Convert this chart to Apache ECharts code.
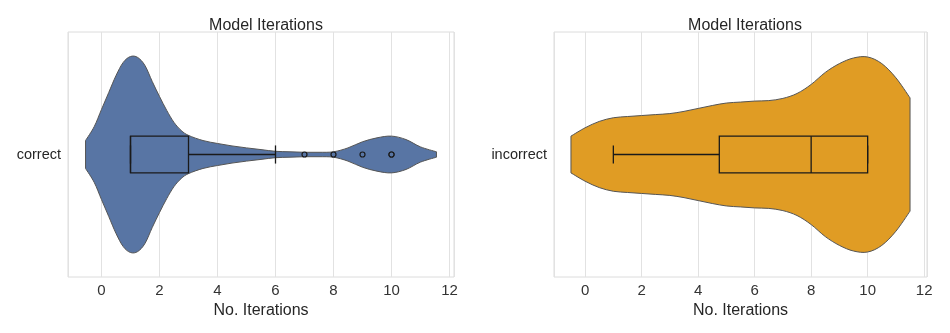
<!DOCTYPE html>
<html>
<head>
<meta charset="utf-8">
<script src="https://cdn.jsdelivr.net/npm/echarts@6/dist/echarts.min.js"></script>
<style>
  html, body { margin: 0; background: #fff; }
  #chart { width: 950px; height: 333px; }
</style>
</head>
<body>
<div id="chart"></div>
<script>
  var categories = ['correct', 'incorrect']

  // violin half-widths (in category units) along No. Iterations
  var correctX = [-0.55, -0.25, 0, 0.25, 0.5, 0.75, 1, 1.25, 1.5, 1.75, 2, 2.25, 2.5, 2.75, 3, 3.5, 4, 4.5, 5, 5.5, 6, 6.5, 7, 7.5, 8, 8.5, 9, 9.5, 10, 10.5, 11, 11.55]
  var correctW = [0.057, 0.114, 0.184, 0.253, 0.322, 0.376, 0.4, 0.396, 0.363, 0.298, 0.237, 0.18, 0.131, 0.098, 0.078, 0.057, 0.045, 0.035, 0.027, 0.02, 0.013, 0.011, 0.009, 0.009, 0.011, 0.027, 0.052, 0.068, 0.075, 0.061, 0.031, 0.011]
  var incorrectX = [-0.5, 0, 0.5, 1, 1.5, 2, 2.5, 3, 3.5, 4, 4.5, 5, 5.5, 6, 6.5, 7, 7.5, 8, 8.5, 9, 9.5, 10, 10.5, 11, 11.5]
  var incorrectW = [0.075, 0.109, 0.135, 0.15, 0.155, 0.159, 0.163, 0.167, 0.176, 0.188, 0.2, 0.21, 0.214, 0.218, 0.22, 0.229, 0.249, 0.286, 0.335, 0.371, 0.394, 0.398, 0.371, 0.313, 0.231]

  // box stats: [min, q1, median, q3, max]
  var correctBox = [1, 1, 1, 3, 6]
  var incorrectBox = [1, 4.75, 8, 10, 10]
  var correctOutliers = [7, 8, 9, 10, 10]

  var xRanges = [[-1.155, 12.155], [-1.1, 12.1]]
  var colors = ['#5875a4', '#e09c24']
  var font = 'Liberation Sans, Arial, sans-serif'

  // catmull-rom through screen points -> cubic bezier path segments
  function curve (pts) {
    var d = ''
    for (var i = 0; i < pts.length - 1; i++) {
      var p0 = pts[Math.max(i - 1, 0)]
      var p1 = pts[i]
      var p2 = pts[i + 1]
      var p3 = pts[Math.min(i + 2, pts.length - 1)]
      var c1 = [p1[0] + (p2[0] - p0[0]) / 6, p1[1] + (p2[1] - p0[1]) / 6]
      var c2 = [p2[0] - (p3[0] - p1[0]) / 6, p2[1] - (p3[1] - p1[1]) / 6]
      d += ' C' + c1[0] + ' ' + c1[1] + ' ' + c2[0] + ' ' + c2[1] + ' ' + p2[0] + ' ' + p2[1]
    }
    return d
  }

  function violinSeries (idx, xs, ws) {
    return {
      type: 'custom',
      xAxisIndex: idx,
      yAxisIndex: idx,
      z: 2,
      data: xs.map(function (x, i) { return [x, ws[i]] }),
      renderItem: function (params, api) {
        if (params.dataIndex !== 0) return null
        var top = []
        var bottom = []
        for (var i = 0; i < xs.length; i++) {
          top.push(api.coord([xs[i], ws[i]]))
          bottom.unshift(api.coord([xs[i], -ws[i]]))
        }
        var d = 'M' + top[0][0] + ' ' + top[0][1] + curve(top) +
          ' L' + bottom[0][0] + ' ' + bottom[0][1] + curve(bottom) + ' Z'
        return {
          type: 'path',
          shape: { pathData: d },
          style: { fill: colors[idx], stroke: '#555', lineWidth: 1 }
        }
      },
      silent: true
    }
  }

  function boxSeries (idx, b) {
    var hb = 0.075
    var hc = 0.037
    return {
      type: 'custom',
      xAxisIndex: idx,
      yAxisIndex: idx,
      z: 3,
      data: [b],
      renderItem: function (params, api) {
        var st = { stroke: '#1a1a1a', lineWidth: 1.3, fill: null }
        var p1 = api.coord([b[1], hb])
        var p3 = api.coord([b[3], -hb])
        var els = [
          { type: 'rect', shape: { x: p1[0], y: p1[1], width: p3[0] - p1[0], height: p3[1] - p1[1] }, style: st },
          line(api.coord([b[2], hb]), api.coord([b[2], -hb]), st),
          line(api.coord([b[0], 0]), api.coord([b[1], 0]), st),
          line(api.coord([b[3], 0]), api.coord([b[4], 0]), st),
          line(api.coord([b[0], hc]), api.coord([b[0], -hc]), st),
          line(api.coord([b[4], hc]), api.coord([b[4], -hc]), st)
        ]
        return { type: 'group', children: els }
      },
      silent: true
    }
  }

  function line (a, b, st) {
    return { type: 'line', shape: { x1: a[0], y1: a[1], x2: b[0], y2: b[1] }, style: st }
  }

  function xAxis (idx) {
    return {
      type: 'value',
      gridIndex: idx,
      min: xRanges[idx][0],
      max: xRanges[idx][1],
      splitNumber: 7,
      name: 'No. Iterations',
      nameLocation: 'middle',
      nameGap: 19,
      nameTextStyle: { fontSize: 16, color: '#262626', fontFamily: font },
      axisLine: { show: false },
      axisTick: { show: false },
      axisLabel: {
        fontSize: 15,
        color: '#333',
        fontFamily: font,
        margin: 6,
        formatter: function (v) { return Math.abs(v - Math.round(v)) < 1e-6 ? String(Math.round(v)) : '' }
      },
      splitLine: { show: true, lineStyle: { color: '#e2e2e2', width: 1 } }
    }
  }

  function yAxis (idx) {
    return {
      type: 'value',
      gridIndex: idx,
      min: -0.5,
      max: 0.5,
      interval: 0.5,
      axisLine: { show: false },
      axisTick: { show: false },
      splitLine: { show: false },
      axisLabel: {
        fontSize: 14.5,
        color: '#262626',
        fontFamily: font,
        margin: 7,
        formatter: function (v) { return Math.abs(v) < 1e-6 ? categories[idx] : '' }
      }
    }
  }

  var titleStyle = { fontSize: 16, fontWeight: 'normal', color: '#262626', fontFamily: font }

  var chart = echarts.init(document.getElementById('chart'))
  chart.setOption({
    animation: false,
    backgroundColor: '#fff',
    title: [
      { text: 'Model Iterations', left: 261, top: 13, textAlign: 'center', textStyle: titleStyle },
      { text: 'Model Iterations', left: 740, top: 13, textAlign: 'center', textStyle: titleStyle }
    ],
    grid: [
      { left: 68, right: 496, top: 32, bottom: 56, show: true, borderColor: '#dcdcdc', borderWidth: 1 },
      { left: 554, right: 23, top: 32, bottom: 56, show: true, borderColor: '#dcdcdc', borderWidth: 1 }
    ],
    xAxis: [xAxis(0), xAxis(1)],
    yAxis: [yAxis(0), yAxis(1)],
    series: [
      violinSeries(0, correctX, correctW),
      boxSeries(0, correctBox),
      {
        type: 'scatter',
        xAxisIndex: 0,
        yAxisIndex: 0,
        z: 4,
        symbol: 'circle',
        symbolSize: 5,
        itemStyle: { color: colors[0], borderColor: '#1a1a1a', borderWidth: 1.2, opacity: 1 },
        data: correctOutliers.map(function (v) { return [v, 0] }),
        silent: true
      },
      violinSeries(1, incorrectX, incorrectW),
      boxSeries(1, incorrectBox)
    ]
  })
</script>
</body>
</html>
